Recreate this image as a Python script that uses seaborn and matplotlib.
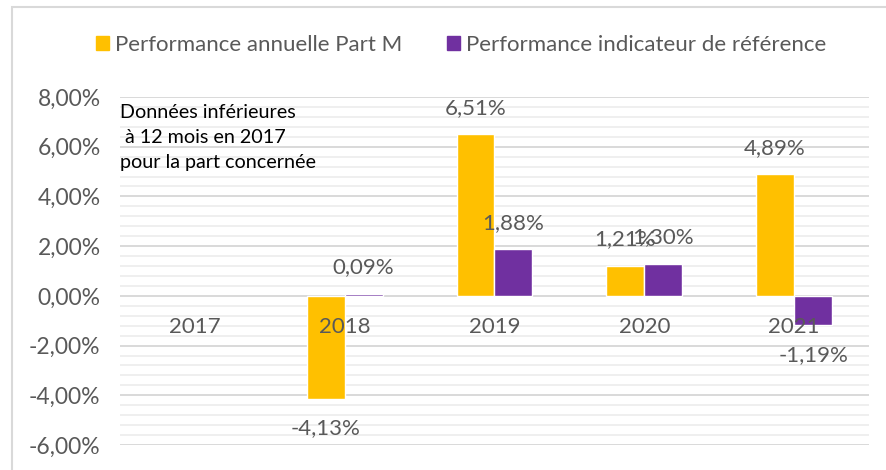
import matplotlib
matplotlib.use('Agg')
import matplotlib.pyplot as plt
import matplotlib.ticker as mticker
from matplotlib.patches import Rectangle
import seaborn as sns
import numpy as np
import pandas as pd

# ========== Data ==========
years = ['2017', '2018', '2019', '2020', '2021']
part_m = [np.nan, -4.13, 6.51, 1.21, 4.89]
indicateur = [np.nan, 0.09, 1.88, 1.30, -1.19]
series = ['Performance annuelle Part M', 'Performance indicateur de référence']
colors = ['#FFC000', '#7030A0']
note = 'Données inférieures\n à 12 mois en 2017\npour la part concernée'

df = pd.DataFrame({
    'annee': years * 2,
    'perf': part_m + indicateur,
    'serie': [series[0]] * len(years) + [series[1]] * len(years),
})

# ========== Style ==========
sns.set_style('white')
plt.rcParams['font.family'] = ['Lato', 'DejaVu Sans']
grey_txt = '#595959'

fig = plt.figure(figsize=(8.87, 4.70), dpi=100)
ax = fig.add_axes([120 / 887, 1 - 445 / 470, 749 / 887, 348 / 470])

sns.barplot(data=df, x='annee', y='perf', hue='serie', order=years,
            hue_order=series, palette=colors, width=0.507, gap=0,
            saturation=1, ax=ax, legend=True)

# ========== Axes ==========
ax.set_ylim(-6, 8)
ax.set_xlim(-0.5, len(years) - 0.5)
ax.yaxis.set_major_locator(mticker.MultipleLocator(2))
ax.yaxis.set_minor_locator(mticker.MultipleLocator(0.4))
ax.yaxis.set_major_formatter(mticker.FuncFormatter(lambda v, p: f'{v:.2f}'.replace('.', ',') + '%'))
ax.grid(which='major', axis='y', color='#d9d9d9', linewidth=1.4)
ax.grid(which='minor', axis='y', color='#efefef', linewidth=1.4)
ax.set_axisbelow(True)
for s in ax.spines.values():
    s.set_visible(False)
ax.tick_params(axis='y', which='both', length=0, pad=14, labelsize=16.5, labelcolor=grey_txt)
ax.set_xticks(range(len(years)))
ax.set_xticklabels([])
ax.tick_params(axis='x', length=0)
ax.set_xlabel('')
ax.set_ylabel('')

# category labels next to the zero line
for i, yr in enumerate(years):
    ax.annotate(yr, xy=(i, 0), xytext=(0, -22.5), textcoords='offset points',
                ha='center', va='center', fontsize=16, color=grey_txt)

# value labels
for cont in ax.containers:
    for bar in cont:
        h = bar.get_height()
        if np.isnan(h):
            continue
        x = bar.get_x() + bar.get_width() / 2
        off = 19 if h >= 0 else -21
        ax.annotate(f'{h:.2f}'.replace('.', ',') + '%', xy=(x, h), xytext=(0, off),
                    textcoords='offset points', ha='center', va='center',
                    fontsize=16, color=grey_txt)

# note
ax.text(-0.5, 7.7, note, ha='left', va='top', fontsize=14.2, color='black',
        linespacing=1.55)

# legend
ax.legend_.remove()
handles = [Rectangle((0, 0), 1, 1, color=c) for c in colors]
fig.legend(handles, series, loc='center', bbox_to_anchor=(461 / 887, 1 - 45 / 470),
           ncol=2, frameon=False, fontsize=16, handlelength=0.6, handleheight=0.6,
           handletextpad=0.25, columnspacing=2.0, labelcolor=grey_txt)

# outer frame
fig.add_artist(Rectangle((12 / 887, -0.1), 1.2, 1.1 - 7 / 470, transform=fig.transFigure,
                         fill=False, edgecolor='#d9d9d9', linewidth=1.5))

fig.savefig('out.png', dpi=100)
